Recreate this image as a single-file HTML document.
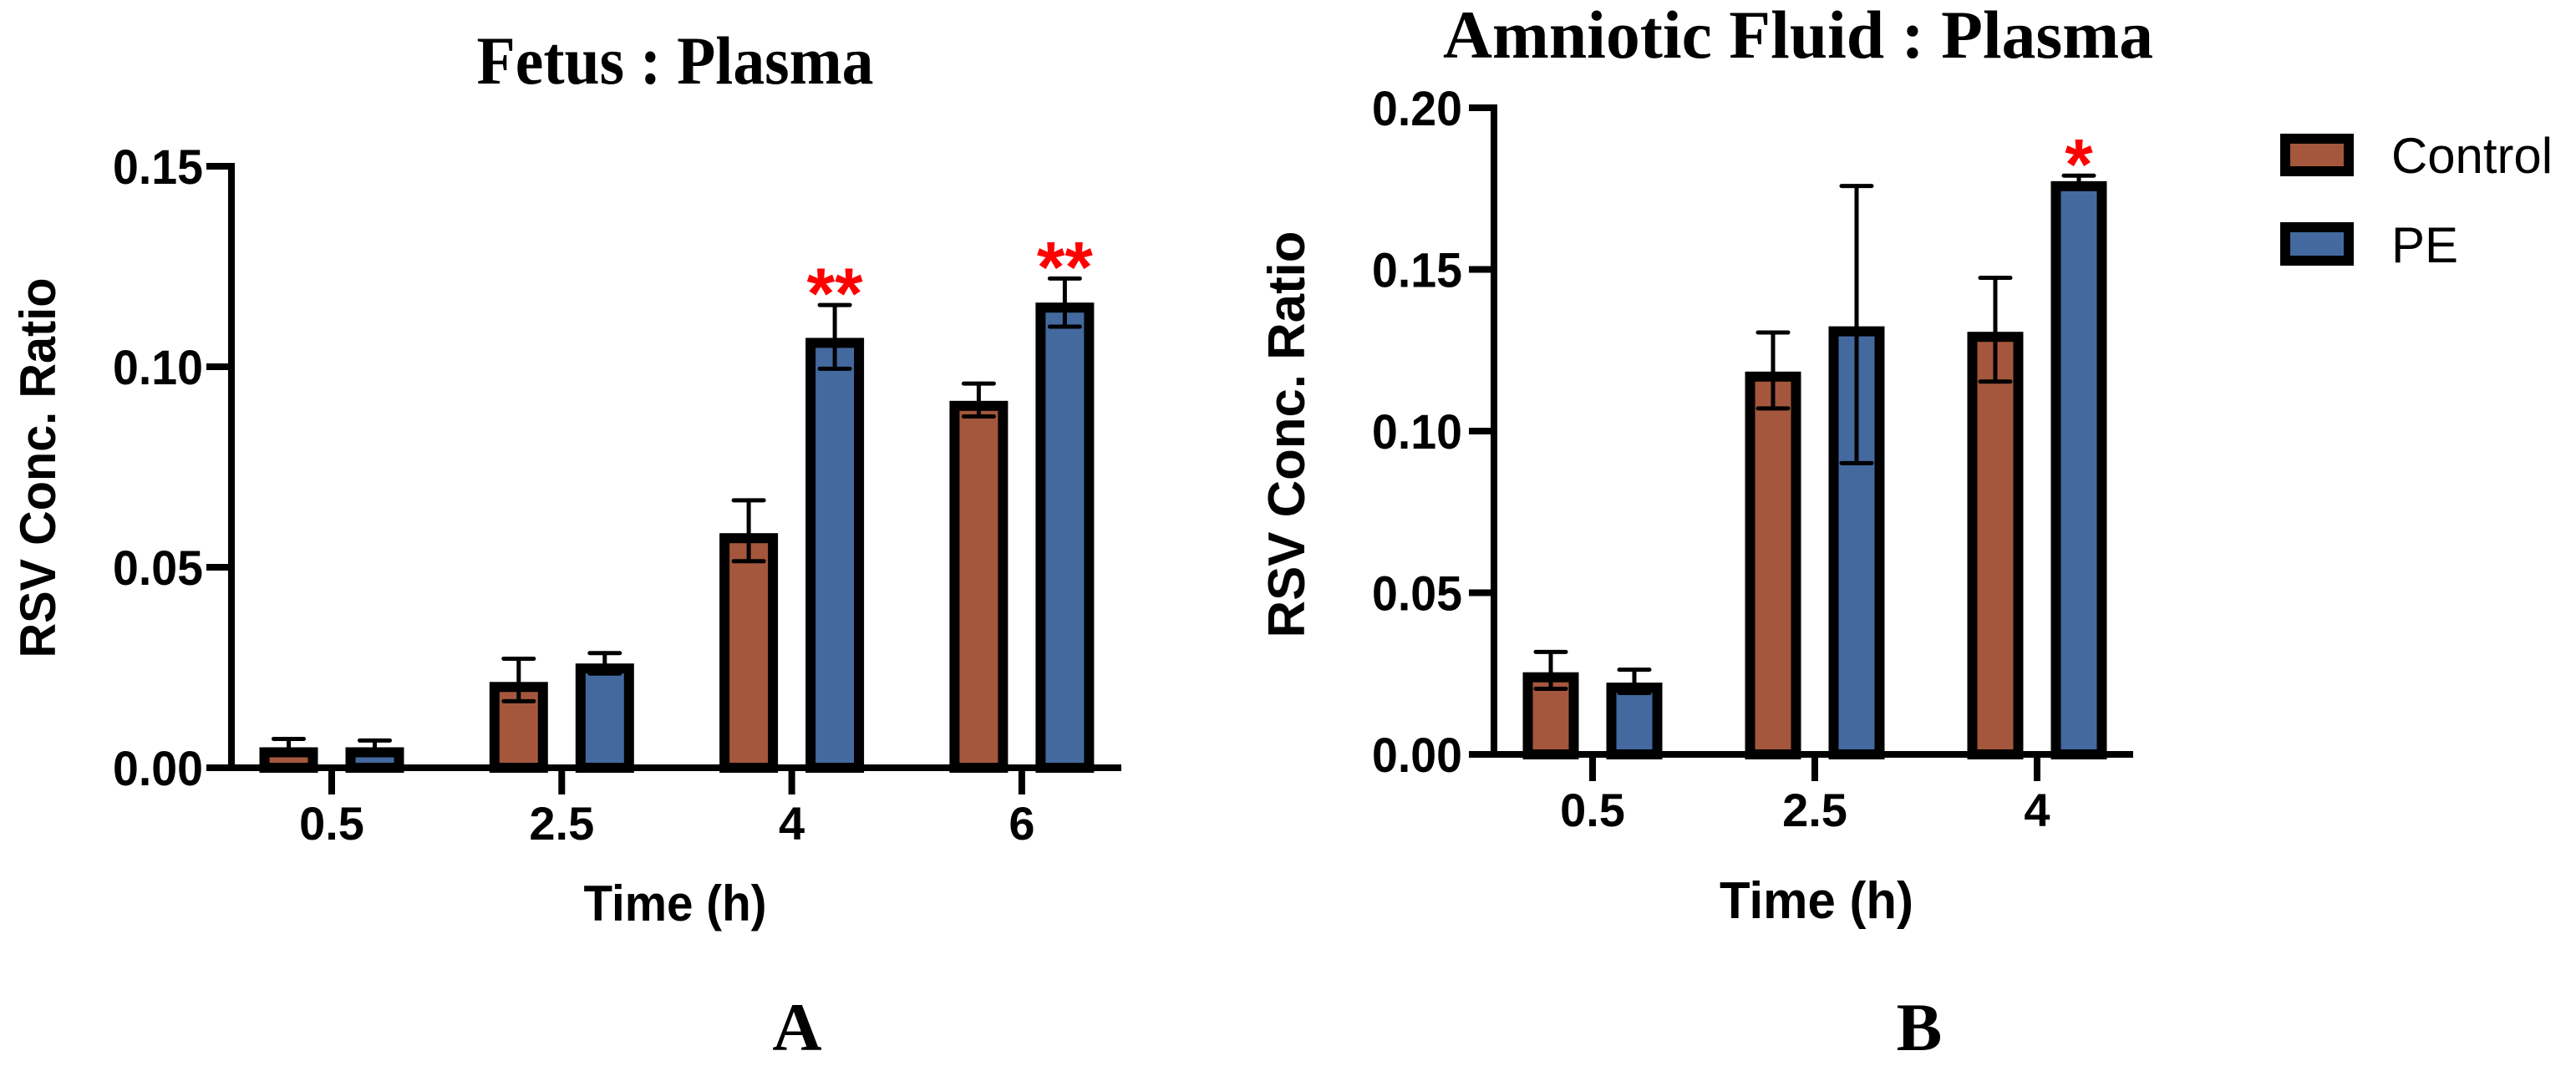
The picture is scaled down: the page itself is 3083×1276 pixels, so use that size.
<!DOCTYPE html>
<html><head><meta charset="utf-8"><style>
html,body{margin:0;padding:0;background:#fff;}
svg{display:block;}
text{font-family:"Liberation Sans",sans-serif;}
.serif{font-family:"Liberation Serif",serif;font-weight:bold;}
</style></head><body>
<svg id="fig" width="3083" height="1276" viewBox="0 0 3083 1276" xmlns="http://www.w3.org/2000/svg">
<g id="chartA"></g>
<g id="chartB"></g>
<g id="legend"></g>
</svg>
<script>
// Chart A data
const catsA = ["0.5","2.5","4","6"];
const ctrlA = [0.0051,0.0214,0.0585,0.0915];
const ctrlAHi = [0.0072,0.0272,0.0667,0.0958];
const ctrlALo = [0.0040,0.0166,0.0515,0.0876];
const peA = [0.0051,0.026,0.1072,0.116];
const peAHi = [0.0068,0.0286,0.1154,0.122];
const peALo = [0.0040,0.0235,0.0995,0.110];
const starsA = ["","","**","**"];
const ticksA = [0,0.05,0.10,0.15];
const tickLabelsA = ["0.00","0.05","0.10","0.15"];
// Chart B data
const catsB = ["0.5","2.5","4"];
const ctrlB = [0.0254,0.1184,0.1307];
const ctrlBHi = [0.0317,0.1305,0.1474];
const ctrlBLo = [0.0203,0.107,0.1153];
const peB = [0.0222,0.1324,0.1773];
const peBHi = [0.0262,0.1758,0.179];
const peBLo = [0.019,0.0901,0.175];
const starsB = ["","","*"];
const ticksB = [0,0.05,0.10,0.15,0.20];
const tickLabelsB = ["0.00","0.05","0.10","0.15","0.20"];

const NS="http://www.w3.org/2000/svg";
const BROWN="#a4573c", BLUE="#44699f";
function mk(parent,tag,attrs,txt){const e=document.createElementNS(NS,tag);for(const k in attrs)e.setAttribute(k,attrs[k]);if(txt!==undefined)e.textContent=txt;parent.appendChild(e);return e;}

function drawChart(g,cfg){
  const y=v=>cfg.y0-v/cfg.ymax*cfg.yspan;
  const x=i=>cfg.x0tick+i*cfg.step;
  const series=[[cfg.ctrl,cfg.ctrlHi,cfg.ctrlLo,BROWN,-cfg.off,"control"],[cfg.pe,cfg.peHi,cfg.peLo,BLUE,cfg.off,"pe"]];
  series.forEach(s=>{
    s[0].forEach((v,i)=>{
      const cx=x(i)+s[4];
      const top=y(v)+6;
      const r=mk(g,"rect",{x:cx-cfg.bw/2,y:top,width:cfg.bw,height:Math.max(cfg.y0-top,0.1),fill:s[3],stroke:"#000","stroke-width":12});
      
      
      const hi=y(s[1][i]), lo=y(s[2][i]);
      const eb=mk(g,"g",{stroke:"#000","stroke-width":5,"stroke-linecap":"round"});
      
      
      mk(eb,"line",{x1:cx,x2:cx,y1:hi,y2:lo});
      mk(eb,"line",{x1:cx-18,x2:cx+18,y1:hi,y2:hi});
      mk(eb,"line",{x1:cx-18,x2:cx+18,y1:lo,y2:lo});
    });
  });
  cfg.stars.forEach((s,i)=>{
    if(!s)return;
    const t=mk(g,"text",{x:x(i)+cfg.off,y:y(cfg.peHi[i])-30+46,"text-anchor":"middle","font-size":86,"font-weight":"bold",fill:"#ff0000"},s);
    
    
  });
  const ax=mk(g,"g",{stroke:"#000","stroke-width":8});
  
  
  mk(ax,"line",{x1:cfg.ax,x2:cfg.ax,y1:y(cfg.ymax)-4,y2:cfg.y0+4});
  mk(ax,"line",{x1:cfg.ax-30,x2:cfg.xend,y1:cfg.y0,y2:cfg.y0});
  cfg.ticks.forEach((t,i)=>{
    mk(ax,"line",{x1:cfg.ax-30,x2:cfg.ax,y1:y(t),y2:y(t)});
    const lab=mk(g,"text",{x:cfg.labR,y:y(t)+21,"text-anchor":"end","font-size":58,"font-weight":"bold",fill:"#000",textLength:108,lengthAdjust:"spacingAndGlyphs"},cfg.tickLabels[i]);
    
    
  });
  cfg.cats.forEach((c,i)=>{
    mk(ax,"line",{x1:x(i),x2:x(i),y1:cfg.y0,y2:cfg.y0+32});
    const lab=mk(g,"text",{x:x(i),y:cfg.y0+86,"text-anchor":"middle","font-size":56,"font-weight":"bold",fill:"#000"},c);
    
    
  });
}

const gA=document.getElementById("chartA");
drawChart(gA,{cats:catsA,ctrl:ctrlA,ctrlHi:ctrlAHi,ctrlLo:ctrlALo,pe:peA,peHi:peAHi,peLo:peALo,stars:starsA,ticks:ticksA,tickLabels:tickLabelsA,
  y0:919,ymax:0.15,yspan:720,x0tick:397,step:275.3,off:51.5,bw:58,ax:277,xend:1342,labR:243});
const gB=document.getElementById("chartB");
drawChart(gB,{cats:catsB,ctrl:ctrlB,ctrlHi:ctrlBHi,ctrlLo:ctrlBLo,pe:peB,peHi:peBHi,peLo:peBLo,stars:starsB,ticks:ticksB,tickLabels:tickLabelsB,
  y0:903,ymax:0.20,yspan:774,x0tick:1906,step:266,off:50,bw:55,ax:1788,xend:2553,labR:1750});
</script>
<svg style="position:absolute;left:0;top:0" width="3083" height="1276" xmlns="http://www.w3.org/2000/svg">
<text class="serif" x="808" y="100" text-anchor="middle" font-size="82" textLength="475" lengthAdjust="spacingAndGlyphs">Fetus : Plasma</text>
<text class="serif" x="2152" y="69" text-anchor="middle" font-size="82" textLength="850" lengthAdjust="spacingAndGlyphs">Amniotic Fluid : Plasma</text>
<text x="45" y="560" transform="rotate(-90 45 560)" dy="21" text-anchor="middle" font-size="60" font-weight="bold" textLength="455" lengthAdjust="spacingAndGlyphs">RSV Conc. Ratio</text>
<text x="1539" y="520" transform="rotate(-90 1539 520)" dy="22" text-anchor="middle" font-size="62" font-weight="bold" textLength="487" lengthAdjust="spacingAndGlyphs">RSV Conc. Ratio</text>
<text x="808" y="1102" text-anchor="middle" font-size="60" font-weight="bold" textLength="219" lengthAdjust="spacingAndGlyphs">Time (h)</text>
<text x="2174" y="1099" text-anchor="middle" font-size="62" font-weight="bold" textLength="232" lengthAdjust="spacingAndGlyphs">Time (h)</text>
<text class="serif" x="954" y="1257" text-anchor="middle" font-size="82">A</text>
<text class="serif" x="2297" y="1257" text-anchor="middle" font-size="82">B</text>
<rect x="2735" y="166" width="76" height="39" fill="#a4573c" stroke="#000" stroke-width="12"/>
<rect x="2735" y="272" width="76" height="40" fill="#44699f" stroke="#000" stroke-width="12"/>
<text x="2862" y="207" font-size="60" textLength="193" lengthAdjust="spacingAndGlyphs">Control</text>
<text x="2862" y="314" font-size="60">PE</text>
</svg>
</body></html>
